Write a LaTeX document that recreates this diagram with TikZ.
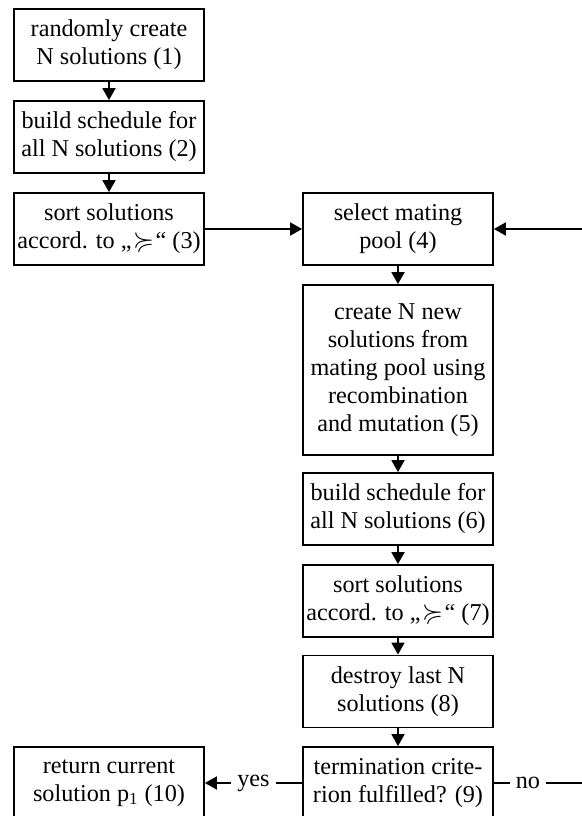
\documentclass[tikz,border=0pt]{standalone}
\usepackage{fontspec}
\setmainfont{Liberation Serif}
\usepackage{amssymb}
\usetikzlibrary{arrows.meta,positioning}

\newcommand{\prefrel}{\kern0.8pt{\fontsize{13.5}{14}\selectfont$\succcurlyeq$}\kern0.8pt}

\begin{document}
\begin{tikzpicture}[x=0.5pt,y=-0.5pt,>={Triangle[length=6pt,width=6.5pt]},
 line width=0.9pt,font=\fontsize{12.1}{14}\selectfont,
 stepbox/.style={draw,minimum width=95pt,minimum height=36pt,align=center,inner sep=1pt},
 edgelabel/.style={fill=white,inner sep=3pt}]
\useasboundingbox (0,0) rectangle (582,816);
% left column
\node[stepbox] (s1) at (109,45) {randomly create\\N solutions (1)};
\node[stepbox] (s2) at (109,137) {build schedule for\\all N solutions (2)};
\node[stepbox] (s3) at (109,229) {sort solutions\\accord. to „\prefrel“ (3)};
\node[stepbox] (s10) at (109,783) {return current\\solution p\textsubscript{1} (10)};
% right column
\node[stepbox] (s4) at (398,229) {select mating\\pool (4)};
\node[stepbox,minimum height=85pt] (s5) at (398,370) {create N new\\solutions from\\mating pool using\\recombination\\and mutation (5)};
\node[stepbox] (s6) at (398,509) {build schedule for\\all N solutions (6)};
\node[stepbox] (s7) at (398,601) {sort solutions\\accord. to „\prefrel“ (7)};
\node[stepbox] (s8) at (398,691.5) {destroy last N\\solutions (8)};
\node[stepbox] (s9) at (398,783) {termination crite-\\rion fulfilled? (9)};
\coordinate (loopbot) at (600,783);
\draw[->] (s1) -- (s2);
\draw[->] (s2) -- (s3);
\draw[->] (s3) -- (s4);
\draw[->] (s4) -- (s5);
\draw[->] (s5) -- (s6);
\draw[->] (s6) -- (s7);
\draw[->] (s7) -- (s8);
\draw[->] (s8) -- (s9);
\draw[->] (s9) -- node[edgelabel]{yes} (s10);
\draw[->] (s9.east) -- node[edgelabel,pos=0.32]{no} (loopbot) |- (s4.east);
\end{tikzpicture}
\end{document}
